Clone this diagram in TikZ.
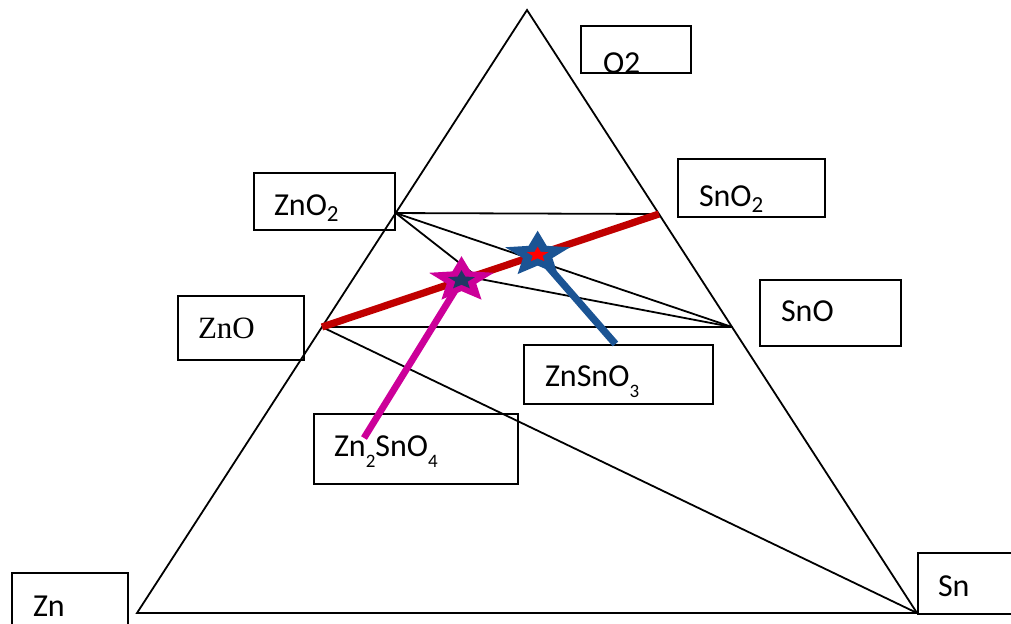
\documentclass[tikz,border=0pt]{standalone}
\usepackage{fontspec}
\setmainfont{Carlito}
\newfontfamily\timesfont{Liberation Serif}
\usepackage{xcolor}
\usetikzlibrary{calc,shapes.geometric}

\definecolor{joinred}{HTML}{C00000}
\definecolor{spinelpink}{HTML}{CC0099}
\definecolor{perovblue}{HTML}{1B5494}
\definecolor{starnavy}{HTML}{1F3864}

\newcommand{\lowsub}[1]{\raisebox{-3pt}{\fontsize{11.5}{12}\selectfont #1}}
\newcommand{\deepsub}[1]{\raisebox{-5.5pt}{\fontsize{9.5}{10}\selectfont #1}}

\tikzset{
  phase/.style={draw,line width=1pt,anchor=north west,align=left,inner ysep=0pt,
    font=\fontsize{16}{19}\selectfont},
  tie/.style={line width=.9pt},
  flatstar/.style={star,star points=5,star point ratio=2.2,inner sep=0pt,transform shape}
}

\begin{document}
\begin{tikzpicture}[x=.5pt,y=-.5pt]
  \useasboundingbox (0,0) rectangle (1011,623);
  % corners
  \coordinate (o) at (527,10);
  \coordinate (zn) at (137,613);
  \coordinate (sn) at (917,613);
  \draw[tie,line join=miter] (zn) -- (o) -- (sn) -- cycle;
  % oxides on the sides
  \coordinate (zno2) at ($(zn)!.6633!(o)$);
  \coordinate (zno) at ($(zn)!.4743!(o)$);
  \coordinate (sno2) at ($(sn)!.6617!(o)$);
  \coordinate (sno) at ($(sn)!.4743!(o)$);
  \coordinate (kink) at (480,279);
  \draw[tie] (zno2) -- (sno2);
  \draw[tie] (zno2) -- (sno);
  \draw[tie] (zno2) -- (kink) -- (sno);
  \draw[tie] (zno) -- (sno);
  \draw[tie] (zno) -- (sn);

  % boxes
  \node[phase,text width=33pt,inner xsep=11pt,text height=23.5pt,text depth=0pt] (o2box) at (580,25) {O2};
  \node[phase,text width=50.5pt,inner xsep=10pt,text height=21pt,text depth=7.5pt] (zno2box) at (253,172) {ZnO\lowsub{2}};
  \node[phase,text width=52.5pt,inner xsep=10.5pt,text height=23.5pt,text depth=5.5pt] (sno2box) at (677,158) {SnO\lowsub{2}};
  \node[phase,text width=43pt,inner xsep=10pt,text height=21pt,text depth=11pt,
    font=\timesfont\fontsize{15.5}{18}\selectfont] (znobox) at (177,295) {ZnO};
  \node[phase,text width=49.5pt,inner xsep=10.5pt,text height=20.5pt,text depth=12.5pt] (snobox) at (759,279) {SnO};
  \node[phase,text width=73.5pt,inner xsep=10.5pt,text height=20.5pt,text depth=9pt] (znsno3box) at (523,344) {ZnSnO\deepsub{3}};
  \node[phase,text width=82pt,inner xsep=10pt,text height=21pt,text depth=14pt] (zn2sno4box) at (313,413) {Zn\deepsub{2}SnO\deepsub{4}};
  \node[phase,text width=37pt,inner xsep=10.5pt,text height=21.5pt,text depth=17.5pt] (znbox) at (11,572) {Zn};
  \node[phase,text width=41.5pt,inner xsep=10pt,text height=21.5pt,text depth=9pt] (snbox) at (917,552) {Sn};

  % ZnO--SnO2 section with the two compounds
  \draw[joinred,line width=3.6pt] (zno) -- (sno2);
  \coordinate (zn2sno4) at ($(zno)!.414!(sno2)$);
  \coordinate (znsno3) at ($(zno)!.64!(sno2)$);
  \coordinate (pinkend) at (364,438);
  \draw[spinelpink,line width=3.4pt] (zn2sno4) -- (pinkend);
  \draw[perovblue,line width=3.6pt] (znsno3) -- ([xshift=-1.5pt]znsno3box.north);
  \begin{scope}[shift={(zn2sno4)},xscale=1.42]
    \node[flatstar,fill=spinelpink,minimum size=24pt] (pinkstar) at (0,0) {};
    \node[flatstar,fill=starnavy,minimum size=10pt] (navystar) at (0,0) {};
  \end{scope}
  \begin{scope}[shift={(znsno3)},xscale=1.42]
    \node[flatstar,fill=perovblue,minimum size=24pt] (bluestar) at (0,0) {};
    \node[flatstar,fill=red,minimum size=8pt] (redstar) at (0,0) {};
  \end{scope}
\end{tikzpicture}
\end{document}
